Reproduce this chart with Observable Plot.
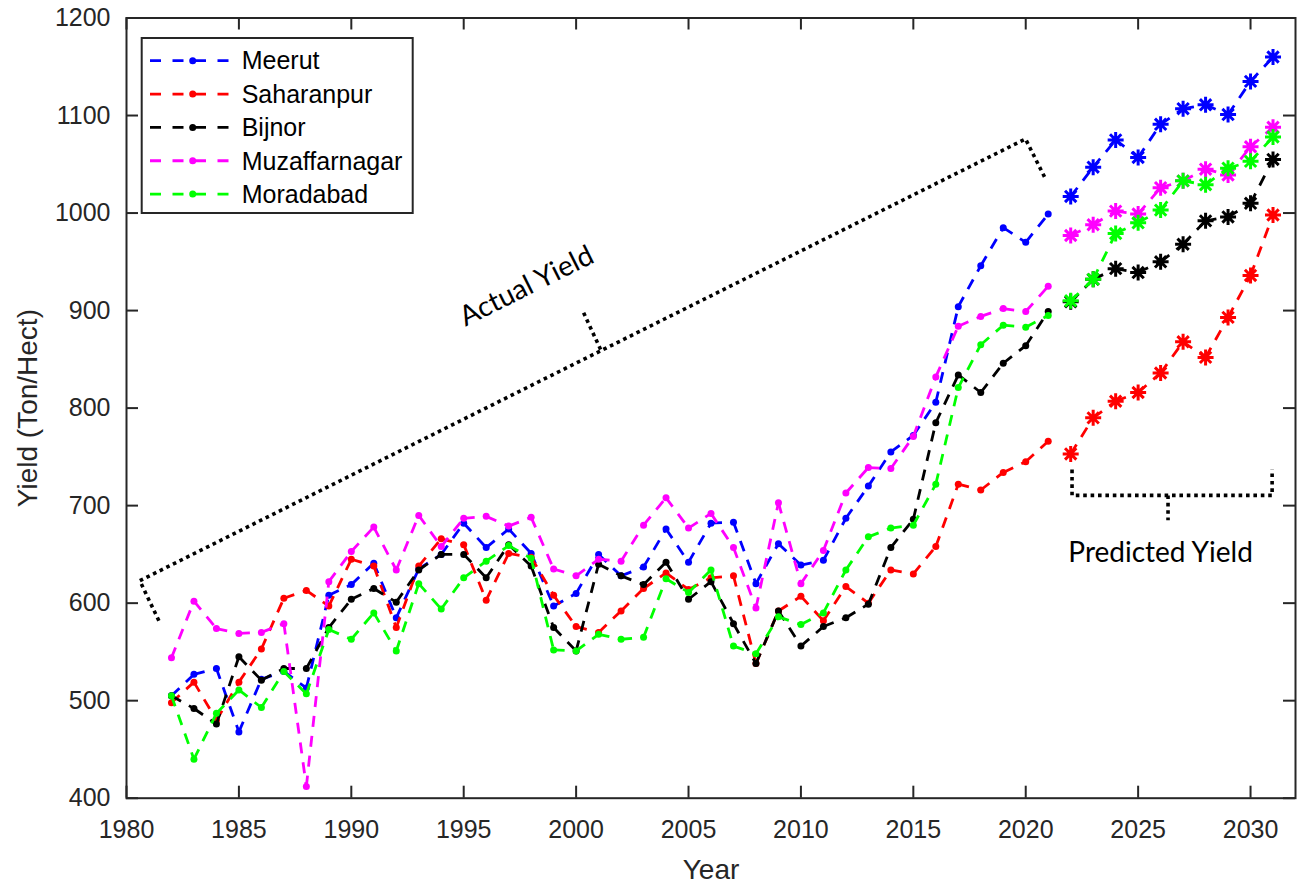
<!DOCTYPE html>
<html><head><meta charset="utf-8">
<script src="https://cdn.jsdelivr.net/npm/d3@7"></script>
<script src="https://cdn.jsdelivr.net/npm/@observablehq/plot@0.6"></script>
<style>
body{margin:0;background:#fff;}
#wrap{position:relative;width:1299px;height:884px;}
#wrap svg{display:block;}
</style></head><body><div id="wrap"></div>
<script>
// ---------- data ----------
const series = ["Meerut", "Saharanpur", "Bijnor", "Muzaffarnagar", "Moradabad"];
const colors = ["#0000ff", "#ff0000", "#000000", "#ff00ff", "#00ff00"];

const actualYears = [1982,1983,1984,1985,1986,1987,1988,1989,1990,1991,1992,1993,1994,1995,1996,1997,1998,1999,2000,2001,
  2002,2003,2004,2005,2006,2007,2008,2009,2010,2011,2012,2013,2014,2015,2016,2017,2018,2019,2020,2021];
const predYears = [2022,2023,2024,2025,2026,2027,2028,2029,2030,2031];

const meerutActual = [505,527,533,468,522,530,513,608,619,641,585,635,650,682,657,676,651,597,610,650,
  628,637,676,642,682,683,620,661,639,644,687,720,755,772,806,904,946,985,970,999];
const saharanpurActual = [498,519,480,519,553,605,613,597,645,638,575,638,666,660,603,651,647,608,576,570,
  592,615,631,614,626,628,538,592,607,582,617,600,634,630,658,722,716,734,745,766];
const bijnorActual = [505,492,476,545,521,533,533,575,604,615,601,634,650,650,626,660,638,575,551,640,
  628,619,642,604,622,579,538,592,556,576,585,599,657,686,785,834,816,846,864,899];
const muzaffarnagarActual = [544,602,574,569,570,579,412,622,653,678,634,690,658,687,689,679,688,635,628,645,
  643,680,708,677,692,657,595,703,620,654,713,739,738,771,832,884,894,902,899,925];
const moradabadActual = [505,440,487,511,493,530,507,573,563,590,551,620,594,626,643,659,646,552,551,568,
  563,565,625,611,634,556,548,586,578,590,634,668,677,680,722,821,865,885,883,895];

const meerutPred = [1017,1047,1075,1057,1091,1107,1111,1101,1135,1160];
const saharanpurPred = [753,790,807,816,836,868,852,893,936,998];
const bijnorPred = [909,932,943,939,950,968,992,996,1010,1055];
const muzaffarnagarPred = [977,988,1002,999,1026,1033,1045,1039,1068,1088];
const moradabadPred = [910,932,979,990,1003,1033,1029,1046,1053,1078];

const xTicks = [1980,1985,1990,1995,2000,2005,2010,2015,2020,2025,2030];
const yTicks = [400,500,600,700,800,900,1000,1100,1200];

// annotation brackets (data coordinates)
const actualBracket = [[1981.44,582],[1980.59,623],[2019.99,1076],[2020.88,1035]];
const actualBracketTick = [[2001.09,860],[2000.33,898]];
const predBracket = [[2022.06,737],[2022.06,710.5],[2030.96,710.5],[2030.96,737]];
const predBracketTick = [[2026.33,710.5],[2026.33,685]];
const annotations = [
  {text: "Actual Yield", x: 1997.8, y: 925, rotate: -26.5},
  {text: "Predicted Yield", x: 2026.0, y: 651, rotate: 0}
];

// ---------- build tables ----------
const actualValues = [meerutActual, saharanpurActual, bijnorActual, muzaffarnagarActual, moradabadActual];
const predValues = [meerutPred, saharanpurPred, bijnorPred, muzaffarnagarPred, moradabadPred];

function rows(years, vals, s) { return years.map((yr, j) => ({series: s, year: yr, value: vals[j]})); }
function segs(r) { const out = []; for (let k = 0; k < r.length - 1; k++) out.push({series: r[k].series, x1: r[k].year, y1: r[k].value, x2: r[k+1].year, y2: r[k+1].value}); return out; }

const asterisk8 = {
  draw(ctx, size) {
    const r = Math.sqrt(size / Math.PI), d = r * Math.SQRT1_2;
    ctx.moveTo(-r, 0); ctx.lineTo(r, 0);
    ctx.moveTo(0, -r); ctx.lineTo(0, r);
    ctx.moveTo(-d, -d); ctx.lineTo(d, d);
    ctx.moveTo(-d, d); ctx.lineTo(d, -d);
  }
};

const W = 1299, H = 884, mL = 126, mR = 4, mT = 17.5, mB = 86.3;
const innerW = W - mL - mR, innerH = H - mT - mB;
const ink = "#262626";
const dash = "11,9";
const lw = 2.8;

const marks = [];
// bracket annotations
const bracketStyle = {x: d => d[0], y: d => d[1], stroke: "black", strokeWidth: 3.6, strokeDasharray: "3.6,3.8", strokeLinecap: "butt"};
marks.push(Plot.line(actualBracket, bracketStyle));
marks.push(Plot.line(actualBracketTick, bracketStyle));
marks.push(Plot.line(predBracket, bracketStyle));
marks.push(Plot.line(predBracketTick, bracketStyle));

series.forEach((s, i) => {
  const r = rows(actualYears, actualValues[i], s);
  marks.push(Plot.link(segs(r), {x1: "x1", y1: "y1", x2: "x2", y2: "y2", stroke: "series", strokeWidth: lw, strokeDasharray: dash}));
  marks.push(Plot.dot(r, {x: "year", y: "value", fill: "series", r: 3.5}));
});
series.forEach((s, i) => {
  const r = rows(predYears, predValues[i], s);
  marks.push(Plot.link(segs(r), {x1: "x1", y1: "y1", x2: "x2", y2: "y2", stroke: "series", strokeWidth: lw, strokeDasharray: dash}));
  marks.push(Plot.dot(r, {x: "year", y: "value", stroke: "series", fill: "none", symbol: asterisk8, r: 8, strokeWidth: 3}));
});

marks.push(Plot.text(annotations, {x: "x", y: "y", text: "text", rotate: "rotate", fontSize: 28, fontFamily: "Lato, 'Open Sans', sans-serif", fill: "black"}));

// frame + inward ticks (box on)
marks.push(Plot.frame({stroke: ink, strokeWidth: 2}));
marks.push(Plot.tickX(xTicks, {x: d => d, insetTop: innerH - 12, stroke: ink, strokeWidth: 2}));
marks.push(Plot.tickX(xTicks, {x: d => d, insetBottom: innerH - 12, stroke: ink, strokeWidth: 2}));
marks.push(Plot.tickY(yTicks, {y: d => d, insetRight: innerW - 12, stroke: ink, strokeWidth: 2}));
marks.push(Plot.tickY(yTicks, {y: d => d, insetLeft: innerW - 12, stroke: ink, strokeWidth: 2}));

marks.push(Plot.axisX(xTicks, {tickSize: 0, tickPadding: 22, fontSize: 25, tickFormat: d => String(d), label: null, fill: ink}));
marks.push(Plot.axisY(yTicks, {tickSize: 0, tickPadding: 16, fontSize: 25, tickFormat: d => String(d), label: null, fill: ink}));
marks.push(Plot.text(["Year"], {frameAnchor: "bottom", textAnchor: "middle", lineAnchor: "middle", dy: 72, fontSize: 28, fill: ink}));
marks.push(Plot.text(["Yield (Ton/Hect)"], {frameAnchor: "left", textAnchor: "middle", lineAnchor: "middle", dx: -98, rotate: -90, fontSize: 28, fill: ink}));

const chart = Plot.plot({
  width: W, height: H,
  marginLeft: mL, marginRight: mR, marginTop: mT, marginBottom: mB,
  x: {domain: [1980, 2032]},
  y: {domain: [400, 1200]},
  color: {domain: series, range: colors},
  style: {fontFamily: "'Liberation Sans', Arial, sans-serif", background: "white", color: ink},
  marks
});
const wrap = document.getElementById("wrap");
wrap.appendChild(chart);

// ---------- legend (inside axes, top-left) ----------
const leg = d3.select(wrap).append("svg")
  .attr("width", W).attr("height", H)
  .style("position", "absolute").style("left", "0px").style("top", "0px");
leg.append("rect").attr("x", 141.7).attr("y", 38).attr("width", 271).attr("height", 175)
  .attr("fill", "white").attr("stroke", ink).attr("stroke-width", 2);
series.forEach((s, i) => {
  const yy = 60.7 + i * 33.35;
  leg.append("line").attr("x1", 150).attr("x2", 229).attr("y1", yy).attr("y2", yy)
    .attr("stroke", colors[i]).attr("stroke-width", lw).attr("stroke-dasharray", "11,11.5");
  leg.append("circle").attr("cx", 192.7).attr("cy", yy).attr("r", 3.5).attr("fill", colors[i]);
  leg.append("text").attr("x", 241.7).attr("y", yy).attr("dy", "0.35em")
    .attr("font-family", "'Liberation Sans', Arial, sans-serif").attr("font-size", 25).attr("fill", "black").text(s);
});
</script></body></html>
